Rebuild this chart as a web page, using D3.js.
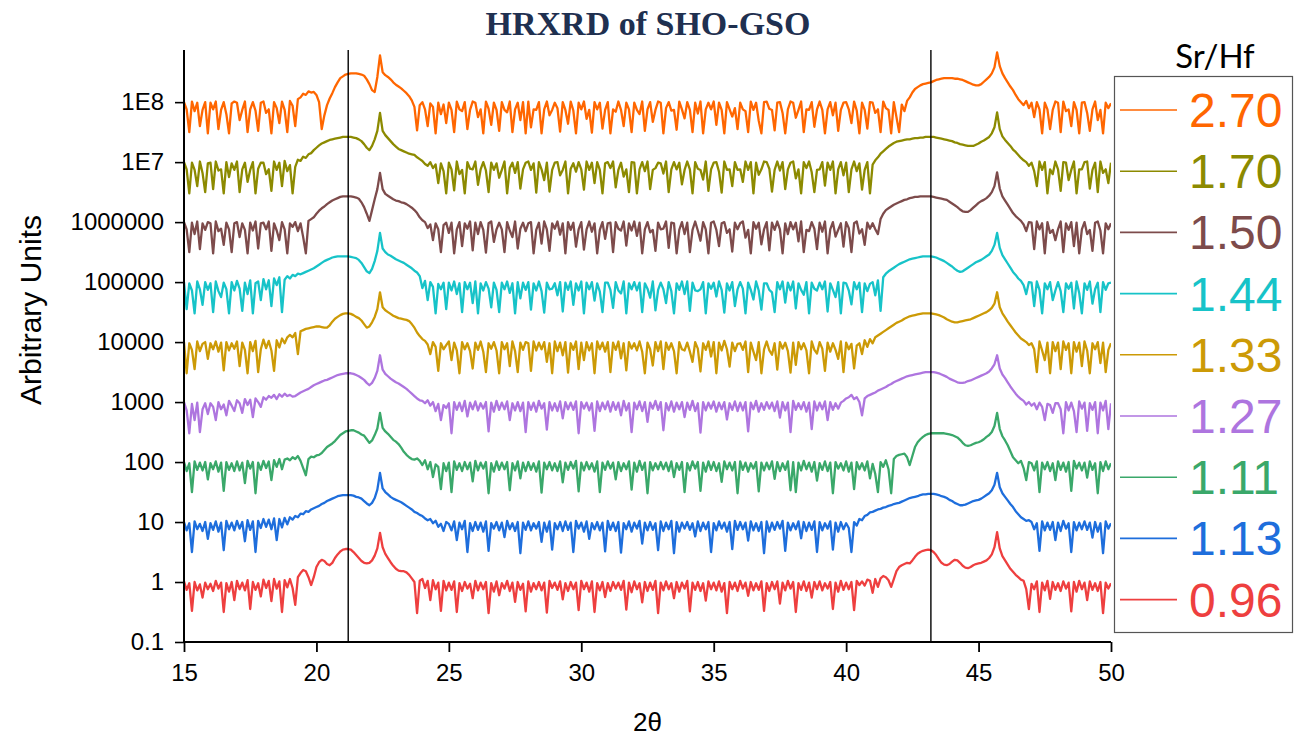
<!DOCTYPE html>
<html>
<head>
<meta charset="utf-8">
<script src="https://cdn.jsdelivr.net/npm/d3@7"></script>
<style>
  body { margin: 0; background: #fff; }
  svg { display: block; }
</style>
</head>
<body>
<svg id="chart" width="1298" height="737"></svg>
<script>
// 2θ scans: one value per 0.1° from 15° to 50°, as log10(intensity) in hundredths,
// each scan then lifted by its stacking decade.
const thetaStart = 15;
const thetaStep = 0.1;

const scan096 = [
  1,-13,-2,-48,0,-14,-4,-26,-1,-12,
  -3,-15,2,-11,-1,-50,-2,-16,0,-30,
  2,-12,-1,-14,3,-45,0,-13,-2,-24,
  4,-10,2,-32,5,-11,1,-50,3,-9,
  5,-10,-38,8,15,20,18,8,-5,8,
  25,33,37,35,30,28,32,40,46,51,
  54,55,55,54,50,45,40,35,32,31,
  32,36,44,56,82,58,47,40,33,27,
  22,19,18,18,16,12,6,0,-52,2,
  5,-10,2,-30,3,-12,-1,-48,2,-14,
  -1,-13,1,-50,-2,-15,0,-11,-3,-27,
  2,-14,-1,-12,0,-52,-2,-16,1,-22,
  -2,-11,2,-15,-1,-33,0,-13,-3,-49,
  1,-16,-2,-12,0,-14,-1,-51,2,-10,
  -1,-13,1,-29,-2,-15,0,-12,-1,-47,
  2,-12,-1,-16,1,-50,-2,-14,0,-25,
  -2,-15,0,-11,-1,-13,2,-46,-1,-17,
  1,-12,-2,-34,0,-15,-1,-13,2,-52,
  -1,-14,1,-12,-2,-27,0,-16,-1,-11,
  2,-49,-1,-13,0,-15,-2,-31,1,-12,
  -1,-14,1,-16,-2,-52,0,-12,-1,-15,
  2,-11,-1,-23,0,-14,-2,-13,1,-48,
  -2,-15,0,-12,1,-36,-1,-14,2,-11,
  0,-50,-2,-13,1,-15,-1,-26,0,-12,
  1,-14,-2,-11,0,-45,-1,-16,2,-13,
  -1,-12,0,-47,2,-5,1,-6,4,2,
  -18,5,-8,6,10,8,3,-8,5,18,
  25,28,30,32,31,36,42,47,50,52,
  53,54,53,50,45,38,32,29,28,30,
  34,37,36,32,27,24,23,25,28,30,
  31,32,34,36,40,46,58,83,56,43,
  36,29,22,17,12,8,4,2,-12,-45,
  -3,-12,1,-50,-1,-14,2,-28,0,-13,
  -2,-15,1,-11,-1,-49,0,-16,2,-12,
  -1,-30,1,-13,-2,-15,0,-52,-1,-11,
  -2
];

const scan113 = [
  0,-14,-2,-50,1,-12,-3,-15,0,-28,
  -2,-13,1,-16,-1,-47,2,-12,-1,-14,
  2,-11,0,-32,3,-13,1,-50,2,-10,
  5,-8,4,-12,6,-30,5,-9,7,-4,
  8,4,10,8,14,13,18,17,21,23,
  25,27,30,32,35,37,39,41,43,44,
  45,45,45,45,44,42,41,39,35,31,
  28,32,40,54,82,56,50,46,42,39,
  37,35,33,30,27,24,21,17,15,12,
  10,6,3,5,-2,2,-8,-3,-15,0,
  -3,-14,1,-30,-1,-12,2,-50,-2,-15,
  0,-13,-1,-16,1,-48,-2,-11,0,-14,
  -1,-25,2,-12,-2,-15,0,-52,-1,-13,
  1,-14,-2,-11,0,-33,-1,-16,1,-46,
  -2,-12,0,-15,1,-13,-1,-50,2,-11,
  -1,-16,1,-28,-2,-12,0,-14,-1,-49,
  2,-13,-1,-15,0,-51,-2,-12,1,-16,
  -1,-11,2,-36,-1,-14,0,-13,-2,-47,
  1,-15,-1,-12,2,-52,0,-16,-1,-11,
  0,-13,-2,-24,1,-15,-1,-12,0,-50,
  -2,-14,1,-11,-1,-16,0,-45,2,-13,
  0,-12,-1,-31,1,-14,-2,-15,0,-52,
  1,-16,-1,-13,0,-11,2,-48,-1,-14,
  -2,-12,1,-27,0,-15,-1,-13,1,-50,
  0,-14,-2,-11,1,-46,-1,-16,0,-12,
  -2,-10,-50,0,-6,5,3,10,12,16,
  17,19,21,22,24,25,27,28,30,31,
  32,34,36,38,40,41,42,43,45,46,
  46,47,47,47,46,45,43,42,40,37,
  35,32,30,28,28,29,31,33,35,36,
  37,39,42,45,48,53,62,82,58,48,
  42,36,30,25,18,13,8,5,2,3,
  0,-12,-2,-48,1,-14,-1,-13,0,-30,
  -1,-15,2,-11,-2,-50,0,-14,-1,-12,
  1,-13,-1,-26,0,-16,-2,-52,1,-11,
  -2
];

const scan111 = [
  0,-15,-2,-50,1,-13,-1,-14,0,-29,
  -2,-12,1,-16,-1,-48,0,-13,-2,-15,
  1,-14,-1,-35,2,-11,0,-52,-1,-13,
  2,-10,1,-30,3,-8,5,-12,4,6,
  3,8,5,10,2,-10,-22,5,9,8,
  11,12,15,20,25,28,31,35,40,45,
  48,51,52,53,53,51,49,46,44,38,
  32,36,45,56,82,57,51,47,42,37,
  34,30,24,17,12,8,5,4,6,2,
  -5,3,-12,0,-25,-4,-8,-45,-2,-15,
  -1,-50,1,-13,-2,-15,0,-12,-1,-32,
  2,-14,-1,-11,0,-52,-2,-16,1,-13,
  -1,-12,0,-47,-2,-14,1,-27,-1,-15,
  0,-13,-2,-16,1,-51,-1,-12,0,-14,
  -2,-15,1,-34,-1,-13,0,-11,2,-49,
  -1,-14,0,-12,-2,-16,1,-50,-1,-13,
  1,-11,-1,-29,0,-15,-2,-12,1,-46,
  -1,-16,2,-13,-1,-52,0,-14,-2,-12,
  0,-12,-1,-15,1,-25,-2,-13,0,-50,
  -2,-14,1,-11,0,-48,-1,-16,1,-13,
  0,-15,-2,-33,1,-12,-1,-14,0,-52,
  1,-13,-1,-16,-2,-11,0,-49,-1,-14,
  -1,-12,1,-28,0,-15,-2,-13,1,-47,
  0,-50,-1,-14,2,-12,-1,-16,0,-31,
  -2,-13,1,-15,-1,-52,0,-11,-2,-14,
  1,-16,-1,-45,0,-12,-2,-14,1,-27,
  -3,-20,-50,0,-8,3,-12,-52,5,10,
  12,13,14,8,-5,10,25,33,38,42,
  45,47,48,48,48,48,48,48,47,46,
  45,43,41,37,32,28,27,28,30,32,
  33,35,38,42,45,50,60,82,55,43,
  36,28,18,8,3,-2,2,-10,-30,0,
  -2,-14,1,-50,-1,-12,0,-15,-2,-30,
  1,-13,-1,-16,0,-48,2,-11,-1,-14,
  -1,-26,1,-13,-2,-52,0,-15,1,-12,
  -2
];

const scan127 = [
  0,-14,-52,-3,-30,-1,-50,-12,-2,-20,
  -2,-8,-30,0,-12,-4,-22,2,-6,-15,
  3,-2,-18,5,-5,4,-25,6,0,-8,
  8,4,10,7,12,5,13,9,14,10,
  12,9,10,13,16,18,20,22,25,28,
  30,32,34,36,37,39,41,43,45,46,
  47,48,48,48,47,45,43,40,37,32,
  28,32,40,52,78,54,47,43,39,36,
  33,31,28,25,22,18,14,10,6,3,
  2,-2,3,-6,0,-15,-3,-30,-5,-10,
  -2,-52,0,-13,-1,-15,2,-24,-1,-12,
  1,-14,-2,-11,0,-49,-1,-16,2,-13,
  -1,-12,1,-30,-2,-14,0,-15,-1,-50,
  0,-13,-1,-16,2,-11,-2,-46,0,-14,
  -2,-15,1,-27,0,-12,-1,-13,1,-52,
  0,-11,-1,-14,-2,-48,1,-15,-1,-12,
  1,-16,0,-13,-1,-22,2,-14,-2,-50,
  -1,-12,1,-15,0,-33,-1,-11,2,-13,
  0,-47,-2,-14,1,-16,-1,-12,0,-25,
  -1,-13,2,-15,-2,-51,0,-14,-1,-11,
  1,-16,-1,-12,0,-29,-2,-13,1,-15,
  -1,-14,0,-49,-1,-12,2,-16,-2,-13,
  0,-11,-1,-15,1,-26,0,-14,-1,-50,
  2,-13,-2,-12,0,-16,-1,-45,1,-14,
  -1,-12,1,-30,0,-13,-2,-11,-1,2,
  6,8,12,5,8,0,-22,6,10,12,
  14,16,19,21,23,25,28,30,33,35,
  37,39,41,43,44,45,46,47,48,49,
  50,50,50,50,49,48,46,44,42,39,
  37,35,33,32,32,33,35,36,38,40,
  42,44,46,48,51,56,63,78,56,46,
  40,33,26,20,14,9,5,2,-4,0,
  -6,-2,-12,-1,-8,-30,-3,-5,-18,-2,
  -2,-12,-52,0,-14,-1,-15,-50,1,-11,
  -1,-48,-2,-13,0,-52,-1,-14,2,-45,
  -2
];

const scan133 = [
  0,-52,-2,-13,-45,1,-15,-3,0,-28,
  -2,-12,1,-16,-1,-47,0,-14,-2,-11,
  1,-40,-1,-13,-52,0,-15,2,-50,-12,
  4,-10,2,-14,-48,3,-9,6,-2,8,
  12,8,15,-20,18,20,22,23,24,25,
  26,26,25,24,24,28,34,39,42,45,
  47,48,48,47,45,42,40,36,30,24,
  26,33,42,55,83,58,53,50,47,44,
  42,40,39,38,37,35,30,24,16,10,
  5,2,-4,-20,0,-8,-48,-2,-12,-5,
  1,-30,-1,-14,-52,0,-12,-2,-15,-44,
  -1,-13,1,-16,-50,-2,-11,0,-14,-52,
  0,-12,-2,-40,1,-15,-50,-1,-13,0,
  -2,-48,1,-14,-1,-12,0,-33,-2,-52,
  1,-15,-1,-22,0,-51,-2,-13,1,-45,
  -1,-30,0,-14,-2,-52,1,-12,-1,-16,
  0,-50,-1,-13,1,-27,-2,-47,0,-11,
  -2,-14,1,-16,-52,-1,-12,-39,0,-15,
  1,-45,-1,-13,-2,-15,-52,0,-12,-14,
  -1,-16,-33,0,-11,-49,-2,-13,1,-24,
  0,-52,-1,-14,2,-12,-41,-1,-15,-3,
  -2,-13,1,-50,-1,-16,-30,0,-52,-12,
  1,-14,-21,-2,-46,0,-11,-1,-15,-51,
  -1,-38,0,-12,-2,-14,-52,1,-13,-19,
  0,-11,-48,-1,-16,-2,-13,-28,1,-50,
  -1,-12,-3,-44,-6,-2,-20,3,-8,5,
  -2,8,11,14,17,20,23,26,29,32,
  34,36,39,41,43,44,45,46,47,48,
  48,48,48,47,46,45,43,41,38,36,
  34,33,33,34,35,36,37,38,40,42,
  44,46,48,50,53,57,64,83,58,48,
  41,34,28,22,16,11,6,3,0,-5,
  -2,-12,-50,1,-14,-30,-1,-52,0,-15,
  -1,-45,1,-13,-2,-52,0,-16,-1,-40,
  1,-14,-52,-2,-12,0,-35,-1,-50,-13,
  -2
];

const scan144 = [
  0,-45,-2,-14,-52,1,-12,-38,0,-13,
  -2,-50,1,-15,-25,-1,-12,-52,0,-14,
  2,-11,-48,-1,-20,3,-52,-2,1,-30,
  5,-12,3,-40,6,-5,8,-50,4,10,
  6,12,10,14,13,15,17,19,21,23,
  26,29,32,35,37,39,41,42,43,43,
  43,43,43,42,41,40,37,32,25,18,
  15,22,35,52,82,56,50,46,44,41,
  38,36,34,32,29,26,23,19,16,10,
  -10,2,-30,0,-8,-52,-3,-12,-1,-45,
  -1,-14,1,-20,-2,-50,0,-12,-1,-35,
  1,-52,-2,-14,0,-11,-42,-1,-13,-50,
  -1,-12,1,-18,-2,-52,0,-27,-1,-13,
  0,-46,-2,-14,1,-15,-51,-1,-12,-11,
  -2,-22,0,-49,-1,-13,1,-38,-2,-14,
  1,-52,-1,-12,0,-31,-2,-16,-50,-1,
  -1,-13,-43,0,-14,-19,1,-52,-2,-12,
  0,-14,-1,-50,-2,-11,-26,1,-47,-13,
  -1,-12,-35,0,-15,-52,-2,-13,1,-20,
  1,-48,-1,-14,-15,-12,0,-52,-2,-11,
  -1,-24,1,-13,-51,-2,-14,0,-40,-12,
  0,-11,-52,-1,-13,-29,1,-14,-46,-2,
  -2,-13,-17,-50,0,-12,1,-34,-1,-14,
  1,-44,-2,-13,-21,0,-52,-1,-11,-14,
  -1,-12,1,-49,-2,-13,-25,0,-52,-1,
  -2,-14,-37,0,-12,-1,-50,-2,-15,-3,
  0,-22,3,-48,8,14,18,21,24,27,
  30,32,34,36,38,39,40,41,42,43,
  43,43,43,42,41,39,37,35,32,29,
  26,22,19,17,18,21,24,27,30,33,
  35,37,40,43,46,52,62,82,57,45,
  38,31,24,17,12,6,2,-5,-20,0,
  -1,-40,1,-13,-52,-2,-12,0,-30,-14,
  0,-15,-50,-2,-11,-1,-44,1,-18,-52,
  -2,-13,1,-36,-12,-1,-50,0,-13,-2,
  -1
];

const scan150 = [
  0,-12,-50,-1,-20,1,-45,-2,-13,0,
  -2,-52,1,-15,-11,-38,-1,-12,-50,-2,
  0,-25,-2,-13,-52,-1,-14,1,-44,-2,
  -1,-12,1,-48,-2,-14,-30,0,-12,-52,
  -2,-8,0,-15,-2,-25,-52,2,5,8,
  14,19,23,26,30,33,36,38,40,42,
  43,43,43,43,42,41,39,33,25,14,
  2,20,38,55,82,55,47,44,41,38,
  36,35,33,32,30,27,24,20,15,8,
  3,0,-10,-4,-30,-2,-12,-50,-5,-1,
  -18,-1,-52,-12,0,-40,-2,-11,1,-47,
  -1,-20,0,-13,-51,-2,1,-33,-12,-1,
  -12,-50,0,-14,-25,1,-44,-11,-1,-15,
  -2,0,-52,-13,-1,-36,1,-12,-48,-2,
  -11,1,-21,-2,-52,0,-13,-1,-41,-12,
  0,-46,-12,1,-16,-2,-52,-13,0,-28,
  -2,-1,-50,0,-11,-14,1,-39,-2,-14,
  1,-23,-1,-52,-12,0,-17,-13,-48,-1,
  -12,-11,1,-43,-1,-2,-52,-13,0,-20,
  -1,-50,-13,1,-14,-31,0,-12,-52,-1,
  1,-13,-40,-2,0,-18,-12,-49,-1,-12,
  -2,1,-26,-13,-52,0,-11,-1,-37,-12,
  0,-47,-1,-13,1,-12,-52,-2,-20,0,
  -12,-1,-32,1,-50,-13,-15,0,-11,-45,
  -1,-16,1,-52,-12,0,-24,-13,-2,-41,
  0,-10,-50,-2,1,-19,-12,-38,-1,-11,
  -2,-12,-20,5,14,20,23,26,29,31,
  33,35,37,38,40,41,42,42,43,43,
  43,43,43,42,41,40,39,38,37,34,
  31,28,25,21,18,17,17,20,24,28,
  32,35,37,40,44,50,60,83,56,43,
  36,29,22,15,10,6,2,-4,-15,0,
  -1,-45,1,-12,-2,-52,0,-18,-13,-30,
  -12,1,-50,-2,-13,0,-40,-1,-52,-12,
  0,-20,-13,-48,-1,1,-14,-52,-2,-12,
  -2
];

const scan170 = [
  0,-12,-52,-1,-13,-40,1,-18,-50,-2,
  -1,-45,1,-14,-12,-52,0,-25,-2,-13,
  1,-50,-12,-1,-33,-13,0,-52,-11,-1,
  -1,-20,-12,-48,1,-13,-1,-40,2,-15,
  -5,-52,-8,4,2,9,7,13,15,20,
  24,28,31,33,35,37,38,39,40,41,
  42,42,42,42,41,40,38,35,30,24,
  20,27,38,52,82,52,45,40,35,30,
  26,22,20,18,16,14,13,12,8,5,
  2,-3,-6,0,-10,-4,-35,-2,-15,-52,
  -1,-12,-47,1,-20,-13,-52,0,-11,-12,
  1,-38,-12,0,-14,-50,-1,-13,-2,-26,
  -13,1,-52,-10,-1,-18,0,-44,-12,-1,
  1,-13,-2,-51,0,-12,-30,-1,-49,-13,
  -1,0,-22,-13,1,-52,-11,-2,-16,0,
  -12,-46,1,-13,-1,-35,0,-13,-52,-2,
  0,-10,1,-42,-13,-1,-24,-12,-50,0,
  -1,-52,-12,0,-15,1,-45,-13,-10,-1,
  -2,-19,1,-50,-12,0,-12,-1,-37,-13,
  1,-12,-52,0,-11,-13,-29,1,-48,-12,
  -1,0,-16,-51,1,-13,-12,-40,0,-13,
  -12,-33,1,-13,0,-52,-1,-21,-12,1,
  0,-11,-49,-13,1,-14,0,-45,-12,-1,
  1,-27,-12,-52,0,-10,1,-17,-50,-13,
  -12,0,-39,-1,-13,1,-52,-12,0,-22,
  -1,-50,-12,1,-15,-2,-46,-13,0,-52,
  -4,3,8,14,18,22,26,29,32,34,
  35,36,37,38,38,39,40,40,41,41,
  42,42,42,42,41,40,39,38,37,36,
  35,33,32,30,29,28,27,27,27,29,
  31,34,36,39,42,48,58,83,55,43,
  37,32,27,21,17,12,7,3,0,-6,
  -1,-15,-40,1,-13,0,-52,-12,-20,1,
  -12,-48,0,-1,-30,-13,1,-52,-12,-12,
  0,1,-44,-13,-1,-50,1,-18,-12,-35,
  -1
];

const scan270 = [
  0,-12,-50,1,-15,-1,-40,-13,0,-52,
  -1,-12,1,-45,-13,0,-20,-52,-2,1,
  -1,-30,-13,1,-50,-12,0,-14,-48,-1,
  1,-18,-12,-52,0,-10,-35,1,-13,-50,
  2,-6,-40,5,8,14,12,18,16,17,
  12,0,-45,-22,-5,6,15,25,33,40,
  43,46,47,48,48,48,47,46,44,38,
  30,20,17,42,78,50,45,42,38,33,
  29,26,23,19,15,10,3,-8,-47,-5,
  0,-12,-40,-2,-8,-52,-1,-20,-4,-35,
  -1,-13,-50,1,-12,-15,0,-45,-13,1,
  -1,-25,-12,-52,1,-11,-38,-1,-13,-48,
  0,-13,-17,1,-50,-12,-1,-30,0,-52,
  1,-42,-12,-13,0,-52,-12,1,-22,-13,
  -1,-10,-49,0,-13,-36,1,-14,-52,-1,
  -12,1,-28,-13,-51,0,-12,-1,-44,-13,
  0,-52,-12,-16,1,-13,-40,-1,-12,-50,
  -1,-13,-20,1,-48,-12,0,-33,-13,1,
  -1,-52,-10,0,-14,-13,-46,1,-12,-27,
  0,-13,-50,-1,-19,1,-52,-12,-1,-12,
  1,-38,-1,-13,-52,0,-12,-24,-10,-45,
  -1,-12,-15,-50,1,-13,-1,-31,-52,0,
  1,-11,-13,-47,-1,0,-18,-52,-12,1,
  -1,-26,-13,1,-50,-12,-13,0,-41,-12,
  1,-13,-52,-12,0,-22,-1,-48,-13,-1,
  0,-12,-35,1,-14,-52,-1,-13,-44,0,
  -1,-18,-12,-50,1,-10,-13,-52,0,-25,
  -50,-4,-15,2,8,16,22,25,28,30,
  31,32,33,35,37,38,39,40,40,40,
  40,39,39,38,37,35,33,31,29,28,
  28,30,34,38,42,48,58,83,60,48,
  40,33,26,20,12,5,0,-5,2,-10,
  -1,-25,0,-12,-52,-1,-12,-45,-13,1,
  -1,-50,1,-15,-12,-40,0,-13,-52,-1,
  0,-18,-48,-12,1,-30,-13,-52,-1,-10,
  -2
];

// Series order: bottom to top of the stack
const srHfRatios = ["0.96", "1.13", "1.11", "1.27", "1.33", "1.44", "1.50", "1.70", "2.70"];
const stackDecades = [0, 1, 2, 3, 4, 5, 6, 7, 8];
const scanColors = ["#EE3F3F", "#1E6EDC", "#3AA86A", "#AE75DF", "#CC9A06", "#17C3C8", "#7D4B4B", "#8C8A00", "#FF6600"];
const scanValues = [scan096, scan113, scan111, scan127, scan133, scan144, scan150, scan170, scan270];

const yTickValues = [0.1, 1, 10, 100, 1000, 1e4, 1e5, 1e6, 1e7, 1e8];
const yTickLabels = ["0.1", "1", "10", "100", "1000", "10000", "100000", "1000000", "1E7", "1E8"];
const xTickValues = [15, 20, 25, 30, 35, 40, 45, 50];
const xMinorTicks = [17.5, 22.5, 27.5, 32.5, 37.5, 42.5, 47.5];
const referenceAngles = [21.2, 43.2];

const svg = d3.select("#chart");
const plot = { left: 184, right: 1111, top: 50, bottom: 642 };
const sansFont = "'Liberation Sans', Arial, Helvetica, sans-serif";

const x = d3.scaleLinear().domain([15, 50]).range([plot.left, plot.right]);
const y = d3.scaleLog().domain([0.1, 7.4e8]).range([plot.bottom, plot.top]);

svg.append("defs").append("clipPath").attr("id", "plotClip")
  .append("rect")
  .attr("x", plot.left).attr("y", plot.top)
  .attr("width", plot.right - plot.left).attr("height", plot.bottom - plot.top);

// Title
svg.append("text")
  .attr("x", 648).attr("y", 35)
  .attr("text-anchor", "middle")
  .attr("font-family", "'Liberation Serif', 'Times New Roman', serif")
  .attr("font-weight", "bold")
  .attr("font-size", 34)
  .attr("fill", "#1F3050")
  .text("HRXRD of SHO-GSO");

// Scans
const line = d3.line().x(d => x(d[0])).y(d => y(d[1]));
const series = scanValues.map((vals, i) =>
  vals.map((v, k) => [thetaStart + k * thetaStep, Math.pow(10, stackDecades[i] + v / 100)]));

const traces = svg.append("g").attr("clip-path", "url(#plotClip)");
series.forEach((pts, i) => {
  traces.append("path")
    .datum(pts)
    .attr("d", line)
    .attr("fill", "none")
    .attr("stroke", scanColors[i])
    .attr("stroke-width", 2.3)
    .attr("stroke-linejoin", "round");
});

// Reference lines for the substrate/film peaks
svg.append("g").selectAll("line")
  .data(referenceAngles)
  .join("line")
  .attr("x1", d => x(d)).attr("x2", d => x(d))
  .attr("y1", plot.top).attr("y2", plot.bottom)
  .attr("stroke", "#000").attr("stroke-width", 1.4);

// Y axis: major decades with labels, minor ticks at 2..9
const yMinor = [];
for (let e = -1; e <= 8; e++) {
  for (let m = 2; m <= 9; m++) {
    const v = m * Math.pow(10, e);
    if (v <= y.domain()[1]) yMinor.push(v);
  }
}
const yAxis = svg.append("g").attr("transform", `translate(${plot.left},0)`);
yAxis.call(d3.axisLeft(y).tickValues(yMinor).tickSize(4).tickFormat(""));
yAxis.call(d3.axisLeft(y).tickValues(yTickValues).tickSize(9).tickPadding(11)
  .tickFormat((d, i) => yTickLabels[i]));
yAxis.selectAll(".domain").remove();
yAxis.append("line")
  .attr("x1", 0).attr("x2", 0).attr("y1", plot.top).attr("y2", plot.bottom + 1)
  .attr("stroke", "#000").attr("stroke-width", 2);
yAxis.selectAll(".tick line").attr("stroke", "#000").attr("stroke-width", 1.6);
yAxis.selectAll(".tick text")
  .attr("font-family", sansFont).attr("font-size", 24).attr("fill", "#000");

// X axis
const xAxis = svg.append("g").attr("transform", `translate(0,${plot.bottom})`);
xAxis.call(d3.axisBottom(x).tickValues(xMinorTicks).tickSize(5).tickFormat(""));
xAxis.call(d3.axisBottom(x).tickValues(xTickValues).tickSize(10).tickPadding(12));
xAxis.selectAll(".domain").remove();
xAxis.append("line")
  .attr("x1", plot.left - 1).attr("x2", plot.right).attr("y1", 0).attr("y2", 0)
  .attr("stroke", "#000").attr("stroke-width", 2);
xAxis.selectAll(".tick line").attr("stroke", "#000").attr("stroke-width", 1.8);
xAxis.selectAll(".tick text")
  .attr("font-family", sansFont).attr("font-size", 24).attr("fill", "#000");

// Axis titles
svg.append("text")
  .attr("x", (plot.left + plot.right) / 2).attr("y", 731)
  .attr("text-anchor", "middle")
  .attr("font-family", sansFont).attr("font-size", 26)
  .text("2θ");

svg.append("text")
  .attr("transform", "translate(41,310) rotate(-90)")
  .attr("text-anchor", "middle")
  .attr("font-family", sansFont).attr("font-size", 30)
  .text("Arbitrary Units");

// Legend
const legend = svg.append("g");
legend.append("text")
  .attr("x", 1215).attr("y", 68)
  .attr("text-anchor", "middle")
  .attr("font-family", "Lato, 'Open Sans', sans-serif")
  .attr("font-size", 33)
  .attr("fill", "#000")
  .text("Sr/Hf");
legend.append("rect")
  .attr("x", 1114.5).attr("y", 76.5)
  .attr("width", 178).attr("height", 556)
  .attr("fill", "#fff").attr("stroke", "#555").attr("stroke-width", 1.2);

const legendOrder = d3.range(srHfRatios.length).reverse();
const legendRow = legend.selectAll("g.entry")
  .data(legendOrder)
  .join("g")
  .attr("class", "entry")
  .attr("transform", (d, j) => `translate(0,${110 + j * 61.2})`);
legendRow.append("line")
  .attr("x1", 1120).attr("x2", 1177).attr("y1", 0).attr("y2", 0)
  .attr("stroke", d => scanColors[d]).attr("stroke-width", 1.6);
legendRow.append("text")
  .attr("x", 1189).attr("y", 17)
  .attr("font-family", sansFont).attr("font-size", 48)
  .attr("fill", d => scanColors[d])
  .text(d => srHfRatios[d]);
</script>
</body>
</html>
